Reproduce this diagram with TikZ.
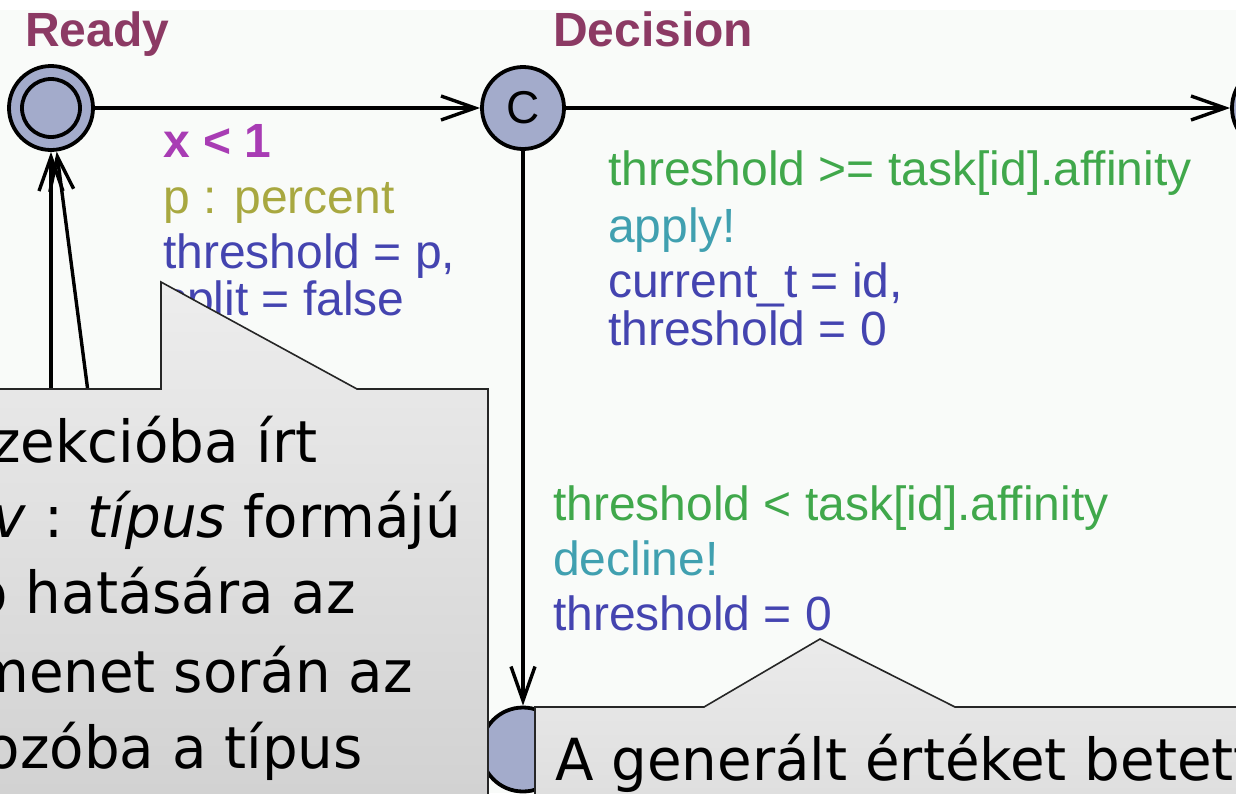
\documentclass[tikz,border=0pt]{standalone}
\usepackage{fontspec}
\setmainfont{Liberation Sans}
\newfontfamily\callfont[FakeStretch=0.97]{DejaVu Sans}
\usetikzlibrary{arrows.meta}
\definecolor{bgcol}{HTML}{F9FBF9}
\definecolor{statefill}{HTML}{A3ABCB}
\definecolor{namecol}{HTML}{8C3A64}
\definecolor{guardcol}{HTML}{40A84B}
\definecolor{synccol}{HTML}{40A0B0}
\definecolor{updcol}{HTML}{4444B0}
\definecolor{invcol}{HTML}{A83CB4}
\definecolor{selcol}{HTML}{A8A840}
\begin{document}
\begin{tikzpicture}[x=1pt,y=-1pt,
  loc/.style={circle, draw=black, line width=3.8pt, fill=statefill, minimum size=84pt, inner sep=0pt},
  edge/.style={line width=3.4pt, -{Straight Barb[length=34pt,width=24pt]}},
  lab/.style={anchor=base west, inner sep=0pt, font=\fontsize{48}{48}\selectfont},
  statename/.style={anchor=base west, inner sep=0pt, font=\fontsize{48}{48}\selectfont\bfseries, text=namecol},
  callout/.style={draw=black!85, line width=1.6pt, top color=black!7, bottom color=black!18},
  callout2/.style={draw=black!85, line width=1.6pt, top color=black!8, bottom color=black!13},
  calltext/.style={inner sep=0pt, font=\callfont\fontsize{58}{58}\selectfont},
]
\useasboundingbox (0,0) rectangle (1236,793);
\clip (0,0) rectangle (1236,793);
\fill[white] (0,0) rectangle (1236,793);
\fill[bgcol] (0,10) rectangle (1236,793);

% states
\node[loc] (ready) at (51,108) {};
\node[circle, draw=black, line width=3.8pt, minimum size=58pt, inner sep=0pt] (readyin) at (ready.center) {};
\node[loc, minimum size=82pt, font=\fontsize{46}{46}\selectfont] (decision) at (523,108) {C};
\node[loc] (next) at (1274,108) {};
\node[loc] (bottom) at (523,749.5) {};

% state names
\node[statename] (readyname) at (25,46) {Ready};
\node[statename] (decisionname) at (553,46) {Decision};

% hidden sources of the incoming edges of Ready
\coordinate (src1) at (51,480);
\coordinate (src2) at (99.5,480);

% edges
\draw[edge] (ready) -- (decision);
\draw[edge] (decision) -- (next);
\draw[edge] (decision) -- (bottom);
\draw[edge] (src1) -- (ready);
\draw[edge] (src2) -- (ready);

% labels of Ready -> Decision
\node[lab, text=invcol, font=\fontsize{48}{48}\selectfont\bfseries] (inv) at (163,157) {x < 1};
\node[lab, text=selcol] (sel) at (163,213) {p : percent};
\node[lab, text=updcol] (upd1a) at (163,268) {threshold = p,};
\node[lab, text=updcol] (upd1b) at (163,315) {split = false};

% labels of Decision -> next
\node[lab, text=guardcol] (g2) at (608,185) {threshold >= task[id].affinity};
\node[lab, text=synccol] (s2) at (608,242) {apply!};
\node[lab, text=updcol] (u2a) at (608,297) {current\_t = id,};
\node[lab, text=updcol] (u2b) at (608,345) {threshold = 0};

% labels of Decision -> bottom
\node[lab, text=guardcol] (g3) at (553,520) {threshold < task[id].affinity};
\node[lab, text=synccol] (s3) at (553,575) {decline!};
\node[lab, text=updcol] (u3) at (553,630) {threshold = 0};

% left comment
\path[callout] (-10,389) -- (161,389) -- (161,282) -- (357,389) -- (488,389) -- (488,810) -- (-10,810) -- cycle;
\node[calltext, anchor=base east] (c1) at (318,462) {A Select szekcióba írt};
\node[calltext, anchor=base east] (c2) at (461,537) {\textit{név} : \textit{típus} formájú};
\node[calltext, anchor=base east] (c3) at (356,613) {deklaráció hatására az};
\node[calltext, anchor=base east] (c4) at (413,692) {átmenet során az};
\node[calltext, anchor=base east] (c5) at (363,768) {változóba a típus};

% bottom comment
\path[callout2] (535,810) -- (535,707) -- (704,707) -- (820,639) -- (955,707) -- (1250,707) -- (1250,810) -- cycle;
\node[calltext, anchor=base west] (c6) at (555,780) {A generált értéket betettük a};
\end{tikzpicture}
\end{document}
